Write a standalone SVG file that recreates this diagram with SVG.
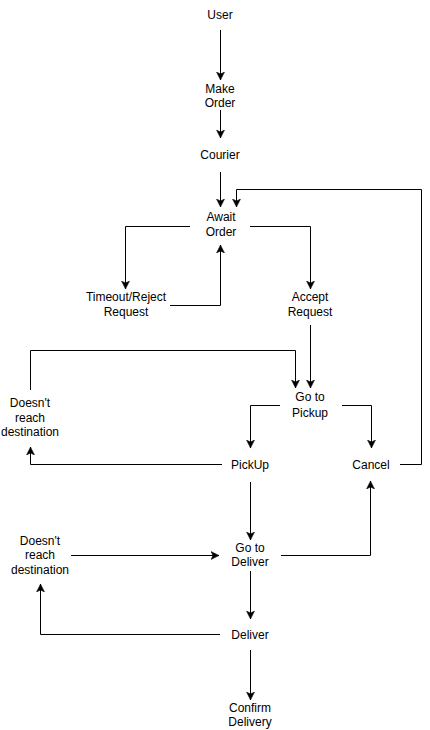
<svg xmlns="http://www.w3.org/2000/svg" width="430" height="730" viewBox="0 0 430 730">
<style>
text{font-family:"Liberation Sans",Arial,sans-serif;font-size:12px;fill:#000;text-anchor:middle}
.e{fill:none;stroke:#000;stroke-width:1;marker-end:url(#a)}
.n{fill:none;stroke:#000;stroke-width:1}
</style>
<defs>
<marker id="a" markerUnits="userSpaceOnUse" markerWidth="10" markerHeight="10" viewBox="0 0 10 10" refX="8" refY="5" orient="auto">
<path d="M0,1 L8,5 L0,9 L2,5 z" fill="#000" stroke="#000" stroke-width="0.5"/>
</marker>
</defs>
<rect width="430" height="730" fill="#fff"/>
<g id="connectors">
<path class="e" d="M220.5,30 V80"/>
<path class="e" d="M220.5,110 V138"/>
<path class="e" d="M220.5,172 V207"/>
<path class="e" d="M190,226.5 H125.5 V289"/>
<path class="e" d="M250,226.5 H310.5 V289"/>
<path class="e" d="M170,305.5 H220.5 V245"/>
<path class="e" d="M310.5,325 V388"/>
<path class="e" d="M30.5,390 V350.5 H295.5 V388"/>
<path class="e" d="M280,405.5 H250.5 V448"/>
<path class="e" d="M342,405.5 H371.5 V448"/>
<path class="e" d="M222,464.5 H30.5 V447"/>
<path class="e" d="M400,464.5 H421.5 V189.5 H236.5 V207"/>
<path class="e" d="M250.5,482 V540"/>
<path class="e" d="M281,555.5 H370.5 V481"/>
<path class="e" d="M71,555.5 H219"/>
<path class="e" d="M250.5,571 V619"/>
<path class="e" d="M220,634.5 H40.5 V584"/>
<path class="e" d="M250.5,650 V700"/>
</g>
<g id="user"><text x="220" y="19">User</text></g>
<g id="make-order"><text x="220" y="93">Make</text><text x="220" y="107">Order</text></g>
<g id="courier"><text x="220" y="159">Courier</text></g>
<g id="await-order"><text x="221" y="221">Await</text><text x="221" y="236">Order</text></g>
<g id="timeout-reject"><text x="126" y="301">Timeout/Reject</text><text x="126" y="316">Request</text></g>
<g id="accept-request"><text x="310" y="301">Accept</text><text x="310" y="316">Request</text></g>
<g id="go-to-pickup"><text x="310" y="401">Go to</text><text x="310" y="417">Pickup</text></g>
<g id="doesnt-reach-1"><text x="30" y="407">Doesn't</text><text x="30" y="422">reach</text><text x="30" y="436">destination</text></g>
<g id="pickup"><text x="250" y="469">PickUp</text></g>
<g id="cancel"><text x="371" y="469">Cancel</text></g>
<g id="go-to-deliver"><text x="250" y="552">Go to</text><text x="250" y="566">Deliver</text></g>
<g id="doesnt-reach-2"><text x="40" y="545">Doesn't</text><text x="40" y="559">reach</text><text x="40" y="574">destination</text></g>
<g id="deliver"><text x="250" y="639">Deliver</text></g>
<g id="confirm-delivery"><text x="250" y="712">Confirm</text><text x="250" y="726">Delivery</text></g>
</svg>
